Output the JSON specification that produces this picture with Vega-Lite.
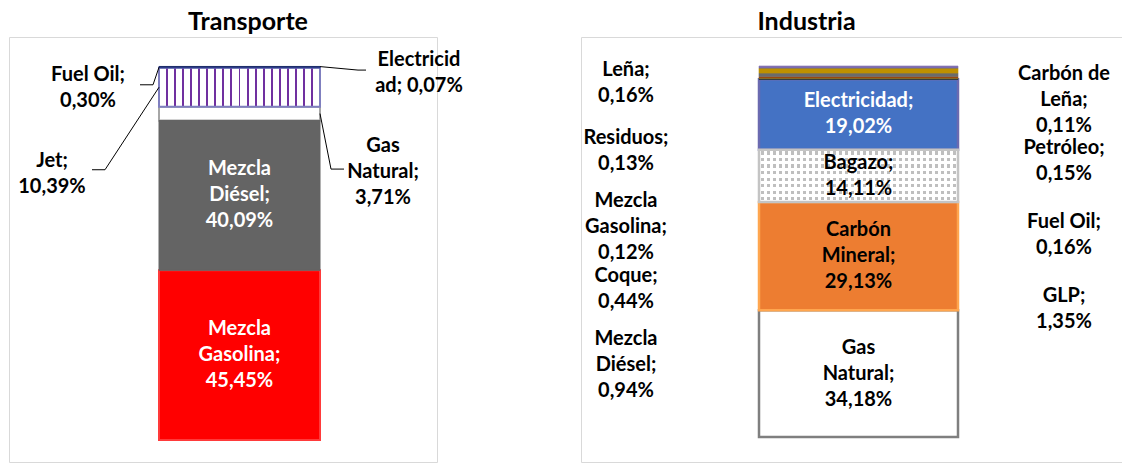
{
  "$schema": "https://vega.github.io/schema/vega-lite/v6.json",
  "padding": {"left": 8, "top": 9, "right": 0, "bottom": 0},
  "spacing": 144,
  "bounds": "flush",
  "config": {
    "view": {"stroke": "#D9D9D9", "strokeWidth": 1},
    "text": {"font": "Lato"}
  },
  "resolve": {"scale": {"fill": "independent", "stroke": "independent", "color": "independent", "xOffset": "independent", "yOffset": "independent"}},
  "datasets": {
    "energia": [
      {"sector": "Transporte", "fuente": "Mezcla Gasolina", "valor": 45.45, "orden": 1, "ubicacion": "dentro", "lineas": 3, "etiqueta": "Mezcla\nGasolina;\n45,45%"},
      {"sector": "Transporte", "fuente": "Mezcla Diésel", "valor": 40.09, "orden": 2, "ubicacion": "dentro", "lineas": 3, "etiqueta": "Mezcla\nDiésel;\n40,09%"},
      {"sector": "Transporte", "fuente": "Gas Natural", "valor": 3.71, "orden": 3, "ubicacion": "derecha", "posicion": 2, "lineas": 3, "etiqueta": "Gas\nNatural;\n3,71%"},
      {"sector": "Transporte", "fuente": "Jet", "valor": 10.39, "orden": 4, "ubicacion": "izquierda", "posicion": 2, "lineas": 2, "etiqueta": "Jet;\n10,39%"},
      {"sector": "Transporte", "fuente": "Fuel Oil", "valor": 0.30, "orden": 5, "ubicacion": "izquierda", "posicion": 1, "lineas": 2, "etiqueta": "Fuel Oil;\n0,30%"},
      {"sector": "Transporte", "fuente": "Electricidad", "valor": 0.07, "orden": 6, "ubicacion": "derecha", "posicion": 1, "lineas": 2, "etiqueta": "Electricid\nad; 0,07%"},
      {"sector": "Industria", "fuente": "Gas Natural", "valor": 34.18, "orden": 1, "ubicacion": "dentro", "lineas": 3, "etiqueta": "Gas\nNatural;\n34,18%"},
      {"sector": "Industria", "fuente": "Carbón Mineral", "valor": 29.13, "orden": 2, "ubicacion": "dentro", "lineas": 3, "etiqueta": "Carbón\nMineral;\n29,13%"},
      {"sector": "Industria", "fuente": "Bagazo", "valor": 14.11, "orden": 3, "ubicacion": "dentro", "lineas": 2, "etiqueta": "Bagazo;\n14,11%"},
      {"sector": "Industria", "fuente": "Electricidad", "valor": 19.02, "orden": 4, "ubicacion": "dentro", "lineas": 2, "etiqueta": "Electricidad;\n19,02%"},
      {"sector": "Industria", "fuente": "Carbón de Leña", "valor": 0.11, "orden": 5, "ubicacion": "derecha", "posicion": 1, "lineas": 3, "etiqueta": "Carbón de\nLeña;\n0,11%"},
      {"sector": "Industria", "fuente": "Leña", "valor": 0.16, "orden": 6, "ubicacion": "izquierda", "posicion": 1, "lineas": 2, "etiqueta": "Leña;\n0,16%"},
      {"sector": "Industria", "fuente": "Coque", "valor": 0.44, "orden": 7, "ubicacion": "izquierda", "posicion": 4, "lineas": 2, "etiqueta": "Coque;\n0,44%"},
      {"sector": "Industria", "fuente": "Mezcla Diésel", "valor": 0.94, "orden": 8, "ubicacion": "izquierda", "posicion": 5, "lineas": 3, "etiqueta": "Mezcla\nDiésel;\n0,94%"},
      {"sector": "Industria", "fuente": "GLP", "valor": 1.35, "orden": 9, "ubicacion": "derecha", "posicion": 4, "lineas": 2, "etiqueta": "GLP;\n1,35%"},
      {"sector": "Industria", "fuente": "Mezcla Gasolina", "valor": 0.12, "orden": 10, "ubicacion": "izquierda", "posicion": 3, "lineas": 3, "etiqueta": "Mezcla\nGasolina;\n0,12%"},
      {"sector": "Industria", "fuente": "Residuos", "valor": 0.13, "orden": 11, "ubicacion": "izquierda", "posicion": 2, "lineas": 2, "etiqueta": "Residuos;\n0,13%"},
      {"sector": "Industria", "fuente": "Petróleo", "valor": 0.15, "orden": 12, "ubicacion": "derecha", "posicion": 2, "lineas": 2, "etiqueta": "Petróleo;\n0,15%"},
      {"sector": "Industria", "fuente": "Fuel Oil", "valor": 0.16, "orden": 13, "ubicacion": "derecha", "posicion": 3, "lineas": 2, "etiqueta": "Fuel Oil;\n0,16%"}
    ]
  },
  "hconcat": [
    {
      "width": 428,
      "height": 425,
      "title": {"text": "Transporte", "font": "Lato", "fontSize": 25, "fontWeight": "bold", "color": "#000000", "anchor": "middle", "frame": "group", "baseline": "alphabetic", "offset": -18, "dx": 25},
      "data": {"name": "energia"},
      "transform": [
        {"filter": "datum.sector === 'Transporte'"},
        {"stack": "valor", "groupby": ["sector"], "sort": [{"field": "orden", "order": "ascending"}], "as": ["v0", "v1"]},
        {"calculate": "(datum.v0 + datum.v1) / 2", "as": "medio"}
      ],
      "layer": [
        {
          "transform": [{"filter": {"field": "fuente", "oneOf": ["Mezcla Gasolina", "Gas Natural"]}}],
          "mark": {"type": "bar", "strokeWidth": 2, "width": 161},
          "encoding": {
            "x": {"field": "sector", "type": "nominal", "scale": {"range": [150, 311], "paddingInner": 0, "paddingOuter": 0}, "axis": null},
            "y": {"field": "v0", "type": "quantitative", "scale": {"domain": [0, 100], "range": [403, 29.5], "nice": false, "zero": false}, "axis": null},
            "y2": {"field": "v1"},
            "fill": {"field": "fuente", "type": "nominal", "scale": {"domain": ["Mezcla Gasolina", "Mezcla Diésel", "Gas Natural", "Jet", "Fuel Oil", "Electricidad"], "range": ["#FF0000", "#646464", "#FFFFFF", "#FFFFFF", "#2E3D8F", "#1F2F6B"]}, "legend": null},
            "stroke": {"field": "fuente", "type": "nominal", "scale": {"domain": ["Mezcla Gasolina", "Mezcla Diésel", "Gas Natural", "Jet", "Fuel Oil", "Electricidad"], "range": ["#FF3A3A", "#646464", "#A6A6A6", "#7F7FBF", "#2E3D8F", "#1F2F6B"]}, "legend": null}
          }
        },
        {
          "transform": [{"filter": {"field": "fuente", "equal": "Jet"}}],
          "mark": {
            "type": "bar",
            "width": 161,
            "stroke": "#7F7FBF",
            "strokeWidth": 2,
            "fill": {
              "gradient": "linear", "x1": 0, "y1": 0, "x2": 1, "y2": 0,
              "stops": [
                {"offset": 0, "color": "#FFFFFF"},
                {"offset": 0.044, "color": "#FFFFFF"}, {"offset": 0.044, "color": "#7030A0"}, {"offset": 0.056, "color": "#7030A0"}, {"offset": 0.056, "color": "#FFFFFF"},
                {"offset": 0.094, "color": "#FFFFFF"}, {"offset": 0.094, "color": "#7030A0"}, {"offset": 0.106, "color": "#7030A0"}, {"offset": 0.106, "color": "#FFFFFF"},
                {"offset": 0.144, "color": "#FFFFFF"}, {"offset": 0.144, "color": "#7030A0"}, {"offset": 0.156, "color": "#7030A0"}, {"offset": 0.156, "color": "#FFFFFF"},
                {"offset": 0.194, "color": "#FFFFFF"}, {"offset": 0.194, "color": "#7030A0"}, {"offset": 0.206, "color": "#7030A0"}, {"offset": 0.206, "color": "#FFFFFF"},
                {"offset": 0.244, "color": "#FFFFFF"}, {"offset": 0.244, "color": "#7030A0"}, {"offset": 0.256, "color": "#7030A0"}, {"offset": 0.256, "color": "#FFFFFF"},
                {"offset": 0.294, "color": "#FFFFFF"}, {"offset": 0.294, "color": "#7030A0"}, {"offset": 0.306, "color": "#7030A0"}, {"offset": 0.306, "color": "#FFFFFF"},
                {"offset": 0.344, "color": "#FFFFFF"}, {"offset": 0.344, "color": "#7030A0"}, {"offset": 0.356, "color": "#7030A0"}, {"offset": 0.356, "color": "#FFFFFF"},
                {"offset": 0.394, "color": "#FFFFFF"}, {"offset": 0.394, "color": "#7030A0"}, {"offset": 0.406, "color": "#7030A0"}, {"offset": 0.406, "color": "#FFFFFF"},
                {"offset": 0.444, "color": "#FFFFFF"}, {"offset": 0.444, "color": "#7030A0"}, {"offset": 0.456, "color": "#7030A0"}, {"offset": 0.456, "color": "#FFFFFF"},
                {"offset": 0.494, "color": "#FFFFFF"}, {"offset": 0.494, "color": "#7030A0"}, {"offset": 0.506, "color": "#7030A0"}, {"offset": 0.506, "color": "#FFFFFF"},
                {"offset": 0.544, "color": "#FFFFFF"}, {"offset": 0.544, "color": "#7030A0"}, {"offset": 0.556, "color": "#7030A0"}, {"offset": 0.556, "color": "#FFFFFF"},
                {"offset": 0.594, "color": "#FFFFFF"}, {"offset": 0.594, "color": "#7030A0"}, {"offset": 0.606, "color": "#7030A0"}, {"offset": 0.606, "color": "#FFFFFF"},
                {"offset": 0.644, "color": "#FFFFFF"}, {"offset": 0.644, "color": "#7030A0"}, {"offset": 0.656, "color": "#7030A0"}, {"offset": 0.656, "color": "#FFFFFF"},
                {"offset": 0.694, "color": "#FFFFFF"}, {"offset": 0.694, "color": "#7030A0"}, {"offset": 0.706, "color": "#7030A0"}, {"offset": 0.706, "color": "#FFFFFF"},
                {"offset": 0.744, "color": "#FFFFFF"}, {"offset": 0.744, "color": "#7030A0"}, {"offset": 0.756, "color": "#7030A0"}, {"offset": 0.756, "color": "#FFFFFF"},
                {"offset": 0.794, "color": "#FFFFFF"}, {"offset": 0.794, "color": "#7030A0"}, {"offset": 0.806, "color": "#7030A0"}, {"offset": 0.806, "color": "#FFFFFF"},
                {"offset": 0.844, "color": "#FFFFFF"}, {"offset": 0.844, "color": "#7030A0"}, {"offset": 0.856, "color": "#7030A0"}, {"offset": 0.856, "color": "#FFFFFF"},
                {"offset": 0.894, "color": "#FFFFFF"}, {"offset": 0.894, "color": "#7030A0"}, {"offset": 0.906, "color": "#7030A0"}, {"offset": 0.906, "color": "#FFFFFF"},
                {"offset": 0.944, "color": "#FFFFFF"}, {"offset": 0.944, "color": "#7030A0"}, {"offset": 0.956, "color": "#7030A0"}, {"offset": 0.956, "color": "#FFFFFF"},
                {"offset": 1, "color": "#FFFFFF"}
              ]
            }
          },
          "encoding": {
            "x": {"field": "sector", "type": "nominal", "scale": {"range": [150, 311], "paddingInner": 0, "paddingOuter": 0}, "axis": null},
            "y": {"field": "v0", "type": "quantitative", "scale": {"domain": [0, 100], "range": [403, 29.5], "nice": false, "zero": false}, "axis": null},
            "y2": {"field": "v1"}
          }
        },
        {
          "transform": [{"filter": {"field": "fuente", "oneOf": ["Mezcla Diésel", "Fuel Oil", "Electricidad"]}}],
          "mark": {"type": "bar", "strokeWidth": 1, "width": 161},
          "encoding": {
            "x": {"field": "sector", "type": "nominal", "scale": {"range": [150, 311], "paddingInner": 0, "paddingOuter": 0}, "axis": null},
            "y": {"field": "v0", "type": "quantitative", "scale": {"domain": [0, 100], "range": [403, 29.5], "nice": false, "zero": false}, "axis": null},
            "y2": {"field": "v1"},
            "fill": {"field": "fuente", "type": "nominal", "legend": null},
            "stroke": {"field": "fuente", "type": "nominal", "legend": null}
          }
        },
        {
          "transform": [{"filter": {"field": "fuente", "equal": "Fuel Oil"}}],
          "mark": {"type": "rule", "color": "#000000", "strokeWidth": 1, "x2Offset": -86.5, "y2Offset": 17.5},
          "encoding": {
            "x": {"field": "sector", "type": "nominal", "bandPosition": 0, "scale": {"range": [150, 311], "paddingInner": 0, "paddingOuter": 0}, "axis": null},
            "x2": {"field": "sector"},
            "y": {"field": "medio", "type": "quantitative", "scale": {"domain": [0, 100], "range": [403, 29.5], "nice": false, "zero": false}, "axis": null},
            "y2": {"field": "medio"}
          }
        },
        {
          "transform": [{"filter": {"field": "fuente", "equal": "Fuel Oil"}}],
          "mark": {"type": "rule", "color": "#000000", "strokeWidth": 1, "xOffset": -6, "yOffset": 17.5, "x2Offset": -99.5, "y2Offset": 17.5},
          "encoding": {
            "x": {"field": "sector", "type": "nominal", "bandPosition": 0, "scale": {"range": [150, 311], "paddingInner": 0, "paddingOuter": 0}, "axis": null},
            "x2": {"field": "sector"},
            "y": {"field": "medio", "type": "quantitative", "scale": {"domain": [0, 100], "range": [403, 29.5], "nice": false, "zero": false}, "axis": null},
            "y2": {"field": "medio"}
          }
        },
        {
          "transform": [{"filter": {"field": "fuente", "equal": "Jet"}}],
          "mark": {"type": "rule", "color": "#000000", "strokeWidth": 1, "x2Offset": -134.5, "y2Offset": 82.5},
          "encoding": {
            "x": {"field": "sector", "type": "nominal", "bandPosition": 0, "scale": {"range": [150, 311], "paddingInner": 0, "paddingOuter": 0}, "axis": null},
            "x2": {"field": "sector"},
            "y": {"field": "medio", "type": "quantitative", "scale": {"domain": [0, 100], "range": [403, 29.5], "nice": false, "zero": false}, "axis": null},
            "y2": {"field": "medio"}
          }
        },
        {
          "transform": [{"filter": {"field": "fuente", "equal": "Jet"}}],
          "mark": {"type": "rule", "color": "#000000", "strokeWidth": 1, "xOffset": -54, "yOffset": 82.5, "x2Offset": -147.5, "y2Offset": 82.5},
          "encoding": {
            "x": {"field": "sector", "type": "nominal", "bandPosition": 0, "scale": {"range": [150, 311], "paddingInner": 0, "paddingOuter": 0}, "axis": null},
            "x2": {"field": "sector"},
            "y": {"field": "medio", "type": "quantitative", "scale": {"domain": [0, 100], "range": [403, 29.5], "nice": false, "zero": false}, "axis": null},
            "y2": {"field": "medio"}
          }
        },
        {
          "transform": [{"filter": {"field": "fuente", "equal": "Electricidad"}}],
          "mark": {"type": "rule", "color": "#000000", "strokeWidth": 1, "xOffset": 161, "x2Offset": 118.5, "y2Offset": 3.5},
          "encoding": {
            "x": {"field": "sector", "type": "nominal", "bandPosition": 0, "scale": {"range": [150, 311], "paddingInner": 0, "paddingOuter": 0}, "axis": null},
            "x2": {"field": "sector"},
            "y": {"field": "medio", "type": "quantitative", "scale": {"domain": [0, 100], "range": [403, 29.5], "nice": false, "zero": false}, "axis": null},
            "y2": {"field": "medio"}
          }
        },
        {
          "transform": [{"filter": {"field": "fuente", "equal": "Electricidad"}}],
          "mark": {"type": "rule", "color": "#000000", "strokeWidth": 1, "xOffset": 199, "yOffset": 3.5, "x2Offset": 126.5, "y2Offset": 3.5},
          "encoding": {
            "x": {"field": "sector", "type": "nominal", "bandPosition": 0, "scale": {"range": [150, 311], "paddingInner": 0, "paddingOuter": 0}, "axis": null},
            "x2": {"field": "sector"},
            "y": {"field": "medio", "type": "quantitative", "scale": {"domain": [0, 100], "range": [403, 29.5], "nice": false, "zero": false}, "axis": null},
            "y2": {"field": "medio"}
          }
        },
        {
          "transform": [{"filter": {"field": "fuente", "equal": "Gas Natural"}}],
          "mark": {"type": "rule", "color": "#000000", "strokeWidth": 1, "xOffset": 161, "x2Offset": 91.5, "y2Offset": 55.5},
          "encoding": {
            "x": {"field": "sector", "type": "nominal", "bandPosition": 0, "scale": {"range": [150, 311], "paddingInner": 0, "paddingOuter": 0}, "axis": null},
            "x2": {"field": "sector"},
            "y": {"field": "medio", "type": "quantitative", "scale": {"domain": [0, 100], "range": [403, 29.5], "nice": false, "zero": false}, "axis": null},
            "y2": {"field": "medio"}
          }
        },
        {
          "transform": [{"filter": {"field": "fuente", "equal": "Gas Natural"}}],
          "mark": {"type": "rule", "color": "#000000", "strokeWidth": 1, "xOffset": 172, "yOffset": 55.5, "x2Offset": 104.5, "y2Offset": 55.5},
          "encoding": {
            "x": {"field": "sector", "type": "nominal", "bandPosition": 0, "scale": {"range": [150, 311], "paddingInner": 0, "paddingOuter": 0}, "axis": null},
            "x2": {"field": "sector"},
            "y": {"field": "medio", "type": "quantitative", "scale": {"domain": [0, 100], "range": [403, 29.5], "nice": false, "zero": false}, "axis": null},
            "y2": {"field": "medio"}
          }
        },
        {
          "transform": [{"filter": "datum.ubicacion === 'dentro'"}],
          "mark": {"type": "text", "font": "Lato", "fontSize": 20, "fontWeight": "bold", "lineBreak": "\n", "lineHeight": 26, "align": "center", "baseline": "middle", "dy": -26, "color": "#FFFFFF"},
          "encoding": {
            "x": {"field": "sector", "type": "nominal", "scale": {"range": [150, 311], "paddingInner": 0, "paddingOuter": 0}, "axis": null},
            "y": {"field": "medio", "type": "quantitative", "scale": {"domain": [0, 100], "range": [403, 29.5], "nice": false, "zero": false}, "axis": null},
            "text": {"field": "etiqueta"}
          }
        },
        {
          "transform": [{"filter": "datum.ubicacion !== 'dentro'"}],
          "mark": {"type": "text", "font": "Lato", "fontSize": 20, "fontWeight": "bold", "lineBreak": "\n", "lineHeight": 26, "align": "center", "baseline": "middle", "color": "#000000"},
          "encoding": {
            "x": {"field": "ubicacion", "type": "nominal", "scale": {"type": "point", "domain": ["izquierda", "derecha"], "range": [-104.5, 557.5]}, "axis": null},
            "xOffset": {"field": "posicion", "type": "ordinal", "scale": {"type": "point", "domain": [1, 2], "range": [36, -36]}},
            "y": {"field": "posicion", "type": "ordinal", "scale": {"type": "point", "domain": [1, 2], "range": [-13.5, 158.5]}, "axis": null},
            "yOffset": {"field": "ubicacion", "type": "nominal", "scale": {"type": "point", "domain": ["izquierda", "derecha"], "range": [15.5, -14.5]}},
            "text": {"field": "etiqueta"}
          }
        }
      ],
      "resolve": {"scale": {"x": "independent", "y": "independent", "xOffset": "independent", "yOffset": "independent"}}
    },
    {
      "width": 541,
      "height": 425,
      "title": {"text": "Industria", "font": "Lato", "fontSize": 25, "fontWeight": "bold", "color": "#000000", "anchor": "middle", "frame": "group", "baseline": "alphabetic", "offset": -18, "dx": -45},
      "data": {"name": "energia"},
      "transform": [
        {"filter": "datum.sector === 'Industria'"},
        {"stack": "valor", "groupby": ["sector"], "sort": [{"field": "orden", "order": "ascending"}], "as": ["v0", "v1"]},
        {"calculate": "(datum.v0 + datum.v1) / 2", "as": "medio"}
      ],
      "layer": [
        {
          "transform": [{"filter": {"field": "fuente", "oneOf": ["Gas Natural", "Carbón Mineral", "Electricidad"]}}],
          "mark": {"type": "bar", "strokeWidth": 2.5, "width": 199},
          "encoding": {
            "x": {"field": "sector", "type": "nominal", "scale": {"range": [178, 377], "paddingInner": 0, "paddingOuter": 0}, "axis": null},
            "y": {"field": "v0", "type": "quantitative", "scale": {"domain": [0, 100], "range": [400, 29], "nice": false, "zero": false}, "axis": null},
            "y2": {"field": "v1"},
            "fill": {"field": "fuente", "type": "nominal", "scale": {"domain": ["Gas Natural", "Carbón Mineral", "Bagazo", "Electricidad", "Carbón de Leña", "Leña", "Coque", "Mezcla Diésel", "GLP", "Mezcla Gasolina", "Residuos", "Petróleo", "Fuel Oil"], "range": ["#FFFFFF", "#ED7D31", "#FFFFFF", "#4472C4", "#000000", "#70AD47", "#9E480E", "#6B6B6B", "#BF9000", "#5B6BA8", "#7F6FB0", "#7A6AAE", "#8070B2"]}, "legend": null},
            "stroke": {"field": "fuente", "type": "nominal", "scale": {"domain": ["Gas Natural", "Carbón Mineral", "Bagazo", "Electricidad", "Carbón de Leña", "Leña", "Coque", "Mezcla Diésel", "GLP", "Mezcla Gasolina", "Residuos", "Petróleo", "Fuel Oil"], "range": ["#7F7F7F", "#FFA64F", "#BFBFBF", "#6A6AB0", "#000000", "#70AD47", "#9E480E", "#6B6B6B", "#BF9000", "#5B6BA8", "#7F6FB0", "#7A6AAE", "#8070B2"]}, "legend": null}
          }
        },
        {
          "transform": [{"filter": {"field": "fuente", "equal": "Bagazo"}}],
          "mark": {
            "type": "bar",
            "width": 199,
            "strokeWidth": 0,
            "fill": {
              "gradient": "linear", "x1": 0, "y1": 0, "x2": 1, "y2": 0,
              "stops": [
                {"offset": 0, "color": "#FFFFFF"},
                {"offset": 0.0076, "color": "#FFFFFF"}, {"offset": 0.0076, "color": "#BFBFBF"}, {"offset": 0.0227, "color": "#BFBFBF"}, {"offset": 0.0227, "color": "#FFFFFF"},
                {"offset": 0.0379, "color": "#FFFFFF"}, {"offset": 0.0379, "color": "#BFBFBF"}, {"offset": 0.0530, "color": "#BFBFBF"}, {"offset": 0.0530, "color": "#FFFFFF"},
                {"offset": 0.0682, "color": "#FFFFFF"}, {"offset": 0.0682, "color": "#BFBFBF"}, {"offset": 0.0833, "color": "#BFBFBF"}, {"offset": 0.0833, "color": "#FFFFFF"},
                {"offset": 0.0985, "color": "#FFFFFF"}, {"offset": 0.0985, "color": "#BFBFBF"}, {"offset": 0.1136, "color": "#BFBFBF"}, {"offset": 0.1136, "color": "#FFFFFF"},
                {"offset": 0.1288, "color": "#FFFFFF"}, {"offset": 0.1288, "color": "#BFBFBF"}, {"offset": 0.1439, "color": "#BFBFBF"}, {"offset": 0.1439, "color": "#FFFFFF"},
                {"offset": 0.1591, "color": "#FFFFFF"}, {"offset": 0.1591, "color": "#BFBFBF"}, {"offset": 0.1742, "color": "#BFBFBF"}, {"offset": 0.1742, "color": "#FFFFFF"},
                {"offset": 0.1894, "color": "#FFFFFF"}, {"offset": 0.1894, "color": "#BFBFBF"}, {"offset": 0.2045, "color": "#BFBFBF"}, {"offset": 0.2045, "color": "#FFFFFF"},
                {"offset": 0.2197, "color": "#FFFFFF"}, {"offset": 0.2197, "color": "#BFBFBF"}, {"offset": 0.2348, "color": "#BFBFBF"}, {"offset": 0.2348, "color": "#FFFFFF"},
                {"offset": 0.2500, "color": "#FFFFFF"}, {"offset": 0.2500, "color": "#BFBFBF"}, {"offset": 0.2651, "color": "#BFBFBF"}, {"offset": 0.2651, "color": "#FFFFFF"},
                {"offset": 0.2803, "color": "#FFFFFF"}, {"offset": 0.2803, "color": "#BFBFBF"}, {"offset": 0.2954, "color": "#BFBFBF"}, {"offset": 0.2954, "color": "#FFFFFF"},
                {"offset": 0.3106, "color": "#FFFFFF"}, {"offset": 0.3106, "color": "#BFBFBF"}, {"offset": 0.3257, "color": "#BFBFBF"}, {"offset": 0.3257, "color": "#FFFFFF"},
                {"offset": 0.3409, "color": "#FFFFFF"}, {"offset": 0.3409, "color": "#BFBFBF"}, {"offset": 0.3560, "color": "#BFBFBF"}, {"offset": 0.3560, "color": "#FFFFFF"},
                {"offset": 0.3712, "color": "#FFFFFF"}, {"offset": 0.3712, "color": "#BFBFBF"}, {"offset": 0.3863, "color": "#BFBFBF"}, {"offset": 0.3863, "color": "#FFFFFF"},
                {"offset": 0.4015, "color": "#FFFFFF"}, {"offset": 0.4015, "color": "#BFBFBF"}, {"offset": 0.4166, "color": "#BFBFBF"}, {"offset": 0.4166, "color": "#FFFFFF"},
                {"offset": 0.4318, "color": "#FFFFFF"}, {"offset": 0.4318, "color": "#BFBFBF"}, {"offset": 0.4469, "color": "#BFBFBF"}, {"offset": 0.4469, "color": "#FFFFFF"},
                {"offset": 0.4621, "color": "#FFFFFF"}, {"offset": 0.4621, "color": "#BFBFBF"}, {"offset": 0.4772, "color": "#BFBFBF"}, {"offset": 0.4772, "color": "#FFFFFF"},
                {"offset": 0.4924, "color": "#FFFFFF"}, {"offset": 0.4924, "color": "#BFBFBF"}, {"offset": 0.5075, "color": "#BFBFBF"}, {"offset": 0.5075, "color": "#FFFFFF"},
                {"offset": 0.5228, "color": "#FFFFFF"}, {"offset": 0.5228, "color": "#BFBFBF"}, {"offset": 0.5379, "color": "#BFBFBF"}, {"offset": 0.5379, "color": "#FFFFFF"},
                {"offset": 0.5531, "color": "#FFFFFF"}, {"offset": 0.5531, "color": "#BFBFBF"}, {"offset": 0.5682, "color": "#BFBFBF"}, {"offset": 0.5682, "color": "#FFFFFF"},
                {"offset": 0.5834, "color": "#FFFFFF"}, {"offset": 0.5834, "color": "#BFBFBF"}, {"offset": 0.5985, "color": "#BFBFBF"}, {"offset": 0.5985, "color": "#FFFFFF"},
                {"offset": 0.6137, "color": "#FFFFFF"}, {"offset": 0.6137, "color": "#BFBFBF"}, {"offset": 0.6288, "color": "#BFBFBF"}, {"offset": 0.6288, "color": "#FFFFFF"},
                {"offset": 0.6440, "color": "#FFFFFF"}, {"offset": 0.6440, "color": "#BFBFBF"}, {"offset": 0.6591, "color": "#BFBFBF"}, {"offset": 0.6591, "color": "#FFFFFF"},
                {"offset": 0.6743, "color": "#FFFFFF"}, {"offset": 0.6743, "color": "#BFBFBF"}, {"offset": 0.6894, "color": "#BFBFBF"}, {"offset": 0.6894, "color": "#FFFFFF"},
                {"offset": 0.7046, "color": "#FFFFFF"}, {"offset": 0.7046, "color": "#BFBFBF"}, {"offset": 0.7197, "color": "#BFBFBF"}, {"offset": 0.7197, "color": "#FFFFFF"},
                {"offset": 0.7349, "color": "#FFFFFF"}, {"offset": 0.7349, "color": "#BFBFBF"}, {"offset": 0.7500, "color": "#BFBFBF"}, {"offset": 0.7500, "color": "#FFFFFF"},
                {"offset": 0.7652, "color": "#FFFFFF"}, {"offset": 0.7652, "color": "#BFBFBF"}, {"offset": 0.7803, "color": "#BFBFBF"}, {"offset": 0.7803, "color": "#FFFFFF"},
                {"offset": 0.7955, "color": "#FFFFFF"}, {"offset": 0.7955, "color": "#BFBFBF"}, {"offset": 0.8106, "color": "#BFBFBF"}, {"offset": 0.8106, "color": "#FFFFFF"},
                {"offset": 0.8258, "color": "#FFFFFF"}, {"offset": 0.8258, "color": "#BFBFBF"}, {"offset": 0.8409, "color": "#BFBFBF"}, {"offset": 0.8409, "color": "#FFFFFF"},
                {"offset": 0.8561, "color": "#FFFFFF"}, {"offset": 0.8561, "color": "#BFBFBF"}, {"offset": 0.8712, "color": "#BFBFBF"}, {"offset": 0.8712, "color": "#FFFFFF"},
                {"offset": 0.8864, "color": "#FFFFFF"}, {"offset": 0.8864, "color": "#BFBFBF"}, {"offset": 0.9015, "color": "#BFBFBF"}, {"offset": 0.9015, "color": "#FFFFFF"},
                {"offset": 0.9167, "color": "#FFFFFF"}, {"offset": 0.9167, "color": "#BFBFBF"}, {"offset": 0.9318, "color": "#BFBFBF"}, {"offset": 0.9318, "color": "#FFFFFF"},
                {"offset": 0.9470, "color": "#FFFFFF"}, {"offset": 0.9470, "color": "#BFBFBF"}, {"offset": 0.9621, "color": "#BFBFBF"}, {"offset": 0.9621, "color": "#FFFFFF"},
                {"offset": 0.9773, "color": "#FFFFFF"}, {"offset": 0.9773, "color": "#BFBFBF"}, {"offset": 0.9924, "color": "#BFBFBF"}, {"offset": 0.9924, "color": "#FFFFFF"},
                {"offset": 1, "color": "#FFFFFF"}
              ]
            }
          },
          "encoding": {
            "x": {"field": "sector", "type": "nominal", "scale": {"range": [178, 377], "paddingInner": 0, "paddingOuter": 0}, "axis": null},
            "y": {"field": "v0", "type": "quantitative", "scale": {"domain": [0, 100], "range": [400, 29], "nice": false, "zero": false}, "axis": null},
            "y2": {"field": "v1"}
          }
        },
        {
          "transform": [{"filter": {"field": "fuente", "equal": "Bagazo"}}],
          "mark": {
            "type": "bar",
            "width": 199,
            "stroke": "#C4C4C4",
            "strokeWidth": 2.5,
            "fill": {
              "gradient": "linear", "x1": 0, "y1": 0, "x2": 0, "y2": 1,
              "stops": [
                {"offset": 0, "color": "#FFFFFF"},
                {"offset": 0.03125, "color": "#FFFFFF"}, {"offset": 0.03125, "color": "rgba(255,255,255,0)"}, {"offset": 0.09375, "color": "rgba(255,255,255,0)"}, {"offset": 0.09375, "color": "#FFFFFF"},
                {"offset": 0.15625, "color": "#FFFFFF"}, {"offset": 0.15625, "color": "rgba(255,255,255,0)"}, {"offset": 0.21875, "color": "rgba(255,255,255,0)"}, {"offset": 0.21875, "color": "#FFFFFF"},
                {"offset": 0.28125, "color": "#FFFFFF"}, {"offset": 0.28125, "color": "rgba(255,255,255,0)"}, {"offset": 0.34375, "color": "rgba(255,255,255,0)"}, {"offset": 0.34375, "color": "#FFFFFF"},
                {"offset": 0.40625, "color": "#FFFFFF"}, {"offset": 0.40625, "color": "rgba(255,255,255,0)"}, {"offset": 0.46875, "color": "rgba(255,255,255,0)"}, {"offset": 0.46875, "color": "#FFFFFF"},
                {"offset": 0.53125, "color": "#FFFFFF"}, {"offset": 0.53125, "color": "rgba(255,255,255,0)"}, {"offset": 0.59375, "color": "rgba(255,255,255,0)"}, {"offset": 0.59375, "color": "#FFFFFF"},
                {"offset": 0.65625, "color": "#FFFFFF"}, {"offset": 0.65625, "color": "rgba(255,255,255,0)"}, {"offset": 0.71875, "color": "rgba(255,255,255,0)"}, {"offset": 0.71875, "color": "#FFFFFF"},
                {"offset": 0.78125, "color": "#FFFFFF"}, {"offset": 0.78125, "color": "rgba(255,255,255,0)"}, {"offset": 0.84375, "color": "rgba(255,255,255,0)"}, {"offset": 0.84375, "color": "#FFFFFF"},
                {"offset": 0.90625, "color": "#FFFFFF"}, {"offset": 0.90625, "color": "rgba(255,255,255,0)"}, {"offset": 0.96875, "color": "rgba(255,255,255,0)"}, {"offset": 0.96875, "color": "#FFFFFF"},
                {"offset": 1, "color": "#FFFFFF"}
              ]
            }
          },
          "encoding": {
            "x": {"field": "sector", "type": "nominal", "scale": {"range": [178, 377], "paddingInner": 0, "paddingOuter": 0}, "axis": null},
            "y": {"field": "v0", "type": "quantitative", "scale": {"domain": [0, 100], "range": [400, 29], "nice": false, "zero": false}, "axis": null},
            "y2": {"field": "v1"}
          }
        },
        {
          "transform": [{"filter": {"field": "fuente", "oneOf": ["Carbón de Leña", "Leña", "Coque", "Mezcla Diésel", "GLP", "Mezcla Gasolina", "Residuos", "Petróleo", "Fuel Oil"]}}],
          "mark": {"type": "bar", "strokeWidth": 0.6, "width": 199},
          "encoding": {
            "x": {"field": "sector", "type": "nominal", "scale": {"range": [178, 377], "paddingInner": 0, "paddingOuter": 0}, "axis": null},
            "y": {"field": "v0", "type": "quantitative", "scale": {"domain": [0, 100], "range": [400, 29], "nice": false, "zero": false}, "axis": null},
            "y2": {"field": "v1"},
            "fill": {"field": "fuente", "type": "nominal", "legend": null},
            "stroke": {"field": "fuente", "type": "nominal", "legend": null}
          }
        },
        {
          "transform": [{"filter": "datum.ubicacion === 'dentro' && datum.lineas === 3"}],
          "mark": {"type": "text", "font": "Lato", "fontSize": 20, "fontWeight": "bold", "lineBreak": "\n", "lineHeight": 26, "align": "center", "baseline": "middle", "dy": -26, "color": "#000000"},
          "encoding": {
            "x": {"field": "sector", "type": "nominal", "scale": {"range": [178, 377], "paddingInner": 0, "paddingOuter": 0}, "axis": null},
            "y": {"field": "medio", "type": "quantitative", "scale": {"domain": [0, 100], "range": [400, 29], "nice": false, "zero": false}, "axis": null},
            "text": {"field": "etiqueta"}
          }
        },
        {
          "transform": [{"filter": "datum.ubicacion === 'dentro' && datum.lineas === 2"}],
          "mark": {"type": "text", "font": "Lato", "fontSize": 20, "fontWeight": "bold", "lineBreak": "\n", "lineHeight": 26, "align": "center", "baseline": "middle", "dy": -13},
          "encoding": {
            "x": {"field": "sector", "type": "nominal", "scale": {"range": [178, 377], "paddingInner": 0, "paddingOuter": 0}, "axis": null},
            "y": {"field": "medio", "type": "quantitative", "scale": {"domain": [0, 100], "range": [400, 29], "nice": false, "zero": false}, "axis": null},
            "text": {"field": "etiqueta"},
            "color": {"condition": {"test": "datum.fuente === 'Electricidad'", "value": "#FFFFFF"}, "value": "#000000"}
          }
        },
        {
          "transform": [{"filter": "datum.ubicacion === 'izquierda'"}],
          "mark": {"type": "text", "font": "Lato", "fontSize": 20, "fontWeight": "bold", "lineBreak": "\n", "lineHeight": 26, "align": "center", "baseline": "middle", "color": "#000000"},
          "encoding": {
            "x": {"field": "ubicacion", "type": "nominal", "scale": {"type": "point", "domain": ["izquierda", "derecha"], "range": [-174, 702]}, "axis": null},
            "y": {"field": "posicion", "type": "ordinal", "scale": {"type": "point", "domain": [1, 2, 3, 4, 5], "range": [-1.8, 342.2]}, "axis": null},
            "yOffset": {"field": "lineas", "type": "ordinal", "scale": {"type": "point", "domain": [2, 3], "range": [3, -9]}},
            "text": {"field": "etiqueta"}
          }
        },
        {
          "transform": [{"filter": "datum.ubicacion === 'derecha'"}],
          "mark": {"type": "text", "font": "Lato", "fontSize": 20, "fontWeight": "bold", "lineBreak": "\n", "lineHeight": 26, "align": "center", "baseline": "middle", "color": "#000000"},
          "encoding": {
            "x": {"field": "ubicacion", "type": "nominal", "scale": {"type": "point", "domain": ["izquierda", "derecha"], "range": [-174, 702]}, "axis": null},
            "y": {"field": "posicion", "type": "ordinal", "scale": {"type": "point", "domain": [1, 2, 3, 4], "range": [0, 296]}, "axis": null},
            "text": {"field": "etiqueta"}
          }
        }
      ],
      "resolve": {"scale": {"x": "independent", "y": "independent", "xOffset": "independent", "yOffset": "independent"}}
    }
  ]
}
